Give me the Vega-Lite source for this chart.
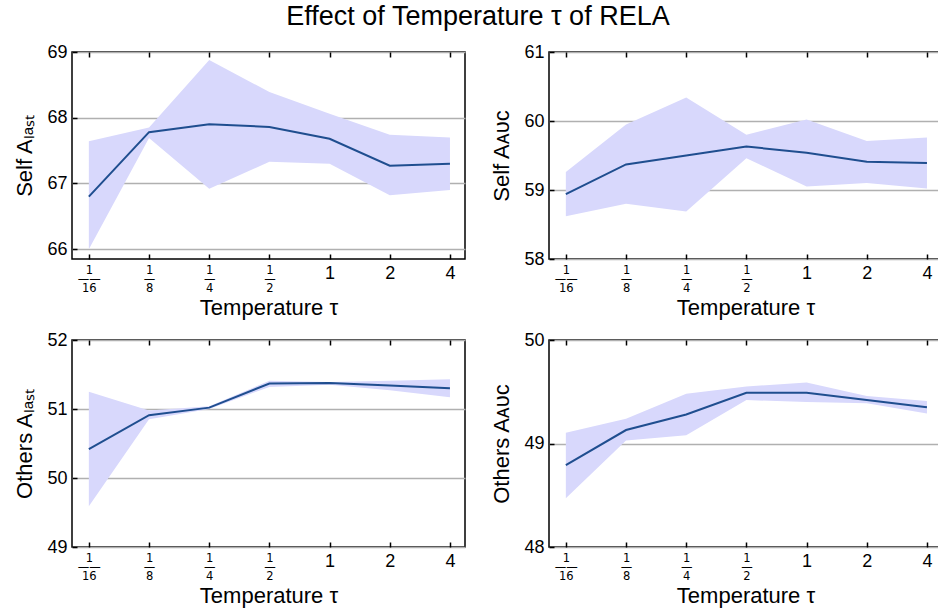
{
  "$schema": "https://vega.github.io/schema/vega-lite/v6.json",
  "padding": {"left": 13, "top": 3, "right": 0, "bottom": 0},
  "background": "white",
  "title": {"text": "Effect of Temperature τ of RELA", "fontSize": 27, "font": "Liberation Sans", "fontWeight": "normal", "anchor": "middle", "color": "black", "offset": 11},
  "config": {
    "view": {"stroke": "black", "strokeWidth": 1.5},
    "axis": {"labelFont": "Liberation Sans", "titleFont": "Liberation Sans", "labelColor": "black", "titleColor": "black", "titleFontWeight": "normal", "domain": false, "tickColor": "black", "labelOverlap": false}
  },
  "datasets": {
    "pts": [
      {"panel": "p1", "k": -4, "mean": 66.80, "lo": 66.00, "hi": 67.64},
      {"panel": "p1", "k": -3, "mean": 67.78, "lo": 67.69, "hi": 67.85},
      {"panel": "p1", "k": -2, "mean": 67.90, "lo": 66.92, "hi": 68.88},
      {"panel": "p1", "k": -1, "mean": 67.86, "lo": 67.33, "hi": 68.39},
      {"panel": "p1", "k": 0, "mean": 67.68, "lo": 67.30, "hi": 68.06},
      {"panel": "p1", "k": 1, "mean": 67.27, "lo": 66.82, "hi": 67.74},
      {"panel": "p1", "k": 2, "mean": 67.30, "lo": 66.90, "hi": 67.70},
      {"panel": "p2", "k": -4, "mean": 58.94, "lo": 58.62, "hi": 59.26},
      {"panel": "p2", "k": -3, "mean": 59.37, "lo": 58.80, "hi": 59.95},
      {"panel": "p2", "k": -2, "mean": 59.50, "lo": 58.69, "hi": 60.34},
      {"panel": "p2", "k": -1, "mean": 59.63, "lo": 59.46, "hi": 59.80},
      {"panel": "p2", "k": 0, "mean": 59.54, "lo": 59.05, "hi": 60.02},
      {"panel": "p2", "k": 1, "mean": 59.41, "lo": 59.10, "hi": 59.71},
      {"panel": "p2", "k": 2, "mean": 59.39, "lo": 59.02, "hi": 59.76},
      {"panel": "p3", "k": -4, "mean": 50.42, "lo": 49.59, "hi": 51.25},
      {"panel": "p3", "k": -3, "mean": 50.91, "lo": 50.85, "hi": 50.98},
      {"panel": "p3", "k": -2, "mean": 51.02, "lo": 51.00, "hi": 51.04},
      {"panel": "p3", "k": -1, "mean": 51.37, "lo": 51.32, "hi": 51.41},
      {"panel": "p3", "k": 0, "mean": 51.375, "lo": 51.35, "hi": 51.39},
      {"panel": "p3", "k": 1, "mean": 51.34, "lo": 51.27, "hi": 51.41},
      {"panel": "p3", "k": 2, "mean": 51.30, "lo": 51.17, "hi": 51.43},
      {"panel": "p4", "k": -4, "mean": 48.79, "lo": 48.47, "hi": 49.105},
      {"panel": "p4", "k": -3, "mean": 49.13, "lo": 49.03, "hi": 49.24},
      {"panel": "p4", "k": -2, "mean": 49.28, "lo": 49.08, "hi": 49.48},
      {"panel": "p4", "k": -1, "mean": 49.49, "lo": 49.42, "hi": 49.55},
      {"panel": "p4", "k": 0, "mean": 49.49, "lo": 49.40, "hi": 49.59},
      {"panel": "p4", "k": 1, "mean": 49.42, "lo": 49.39, "hi": 49.46},
      {"panel": "p4", "k": 2, "mean": 49.35, "lo": 49.29, "hi": 49.41}
    ]
  },
  "columns": 2,
  "spacing": {"column": 24, "row": 10},
  "concat": [
    {
      "width": 393, "height": 207,
      "data": {"name": "pts"},
      "transform": [{"filter": "datum.panel == 'p1'"}],
      "layer": [
        {"mark": {"type": "area", "color": "#d8d8fc", "opacity": 1},
         "encoding": {
           "x": {"field": "k", "type": "quantitative", "scale": {"domain": [-4.28, 2.25], "nice": false}, "axis": {"orient": "top", "values": [-4,-3,-2,-1,0,1,2], "labels": false, "title": null, "grid": false, "offset": -5, "tickSize": 5, "tickWidth": 1.5}},
           "y": {"field": "lo", "type": "quantitative", "scale": {"domain": [65.85, 69], "nice": false, "zero": false}, "axis": {"values": [66,67,68,69], "tickCount": 10, "labelExpr": "format(datum.value, 'd')", "title": "Self Aₗₐₛₜ", "titleFontSize": 22, "labelFontSize": 18, "offset": -5, "tickSize": 5, "tickWidth": 1.5, "grid": true, "gridColor": "#b0b0b0", "gridWidth": 1.5, "labelPadding": 5, "titlePadding": 10}},
           "y2": {"field": "hi"}
         }},
        {"mark": {"type": "line", "color": "#1f4e8f", "strokeWidth": 2},
         "encoding": {
           "x": {"field": "k", "type": "quantitative", "axis": {"orient": "bottom", "values": [-4,-3,-2,-1,0,1,2], "title": "Temperature τ", "titleFontSize": 22, "offset": -5, "tickSize": 5, "tickWidth": 1.5, "grid": false, "labelPadding": 5, "titlePadding": 4, "labelLineHeight": 9, "labelExpr": "datum.value == -4 ? ['1','——','16'] : datum.value == -3 ? ['1','—','8'] : datum.value == -2 ? ['1','—','4'] : datum.value == -1 ? ['1','—','2'] : format(pow(2, datum.value), 'd')", "labelFontSize": {"condition": {"test": "datum.value < 0", "value": 11.5}, "value": 18}, "labelFont": {"condition": {"test": "datum.value < 0", "value": "DejaVu Sans"}, "value": "Liberation Sans"}}},
           "y": {"field": "mean", "type": "quantitative"}
         }}
      ],
      "resolve": {"axis": {"x": "independent"}}
    },
    {
      "width": 393, "height": 207,
      "data": {"name": "pts"},
      "transform": [{"filter": "datum.panel == 'p2'"}],
      "layer": [
        {"mark": {"type": "area", "color": "#d8d8fc", "opacity": 1},
         "encoding": {
           "x": {"field": "k", "type": "quantitative", "scale": {"domain": [-4.28, 2.25], "nice": false}, "axis": {"orient": "top", "values": [-4,-3,-2,-1,0,1,2], "labels": false, "title": null, "grid": false, "offset": -5, "tickSize": 5, "tickWidth": 1.5}},
           "y": {"field": "lo", "type": "quantitative", "scale": {"domain": [58, 61], "nice": false, "zero": false}, "axis": {"values": [58,59,60,61], "tickCount": 10, "labelExpr": "format(datum.value, 'd')", "title": "Self Aᴀᴜᴄ", "titleFontSize": 22, "labelFontSize": 18, "offset": -5, "tickSize": 5, "tickWidth": 1.5, "grid": true, "gridColor": "#b0b0b0", "gridWidth": 1.5, "labelPadding": 5, "titlePadding": 10}},
           "y2": {"field": "hi"}
         }},
        {"mark": {"type": "line", "color": "#1f4e8f", "strokeWidth": 2},
         "encoding": {
           "x": {"field": "k", "type": "quantitative", "axis": {"orient": "bottom", "values": [-4,-3,-2,-1,0,1,2], "title": "Temperature τ", "titleFontSize": 22, "offset": -5, "tickSize": 5, "tickWidth": 1.5, "grid": false, "labelPadding": 5, "titlePadding": 4, "labelLineHeight": 9, "labelExpr": "datum.value == -4 ? ['1','——','16'] : datum.value == -3 ? ['1','—','8'] : datum.value == -2 ? ['1','—','4'] : datum.value == -1 ? ['1','—','2'] : format(pow(2, datum.value), 'd')", "labelFontSize": {"condition": {"test": "datum.value < 0", "value": 11.5}, "value": 18}, "labelFont": {"condition": {"test": "datum.value < 0", "value": "DejaVu Sans"}, "value": "Liberation Sans"}}},
           "y": {"field": "mean", "type": "quantitative"}
         }}
      ],
      "resolve": {"axis": {"x": "independent"}}
    },
    {
      "width": 393, "height": 207,
      "data": {"name": "pts"},
      "transform": [{"filter": "datum.panel == 'p3'"}],
      "layer": [
        {"mark": {"type": "area", "color": "#d8d8fc", "opacity": 1},
         "encoding": {
           "x": {"field": "k", "type": "quantitative", "scale": {"domain": [-4.28, 2.25], "nice": false}, "axis": {"orient": "top", "values": [-4,-3,-2,-1,0,1,2], "labels": false, "title": null, "grid": false, "offset": -5, "tickSize": 5, "tickWidth": 1.5}},
           "y": {"field": "lo", "type": "quantitative", "scale": {"domain": [49, 52], "nice": false, "zero": false}, "axis": {"values": [49,50,51,52], "tickCount": 10, "labelExpr": "format(datum.value, 'd')", "title": "Others Aₗₐₛₜ", "titleFontSize": 22, "labelFontSize": 18, "offset": -5, "tickSize": 5, "tickWidth": 1.5, "grid": true, "gridColor": "#b0b0b0", "gridWidth": 1.5, "labelPadding": 5, "titlePadding": 10}},
           "y2": {"field": "hi"}
         }},
        {"mark": {"type": "line", "color": "#1f4e8f", "strokeWidth": 2},
         "encoding": {
           "x": {"field": "k", "type": "quantitative", "axis": {"orient": "bottom", "values": [-4,-3,-2,-1,0,1,2], "title": "Temperature τ", "titleFontSize": 22, "offset": -5, "tickSize": 5, "tickWidth": 1.5, "grid": false, "labelPadding": 5, "titlePadding": 4, "labelLineHeight": 9, "labelExpr": "datum.value == -4 ? ['1','——','16'] : datum.value == -3 ? ['1','—','8'] : datum.value == -2 ? ['1','—','4'] : datum.value == -1 ? ['1','—','2'] : format(pow(2, datum.value), 'd')", "labelFontSize": {"condition": {"test": "datum.value < 0", "value": 11.5}, "value": 18}, "labelFont": {"condition": {"test": "datum.value < 0", "value": "DejaVu Sans"}, "value": "Liberation Sans"}}},
           "y": {"field": "mean", "type": "quantitative"}
         }}
      ],
      "resolve": {"axis": {"x": "independent"}}
    },
    {
      "width": 393, "height": 207,
      "data": {"name": "pts"},
      "transform": [{"filter": "datum.panel == 'p4'"}],
      "layer": [
        {"mark": {"type": "area", "color": "#d8d8fc", "opacity": 1},
         "encoding": {
           "x": {"field": "k", "type": "quantitative", "scale": {"domain": [-4.28, 2.25], "nice": false}, "axis": {"orient": "top", "values": [-4,-3,-2,-1,0,1,2], "labels": false, "title": null, "grid": false, "offset": -5, "tickSize": 5, "tickWidth": 1.5}},
           "y": {"field": "lo", "type": "quantitative", "scale": {"domain": [48, 50], "nice": false, "zero": false}, "axis": {"values": [48,49,50], "tickCount": 10, "labelExpr": "format(datum.value, 'd')", "title": "Others Aᴀᴜᴄ", "titleFontSize": 22, "labelFontSize": 18, "offset": -5, "tickSize": 5, "tickWidth": 1.5, "grid": true, "gridColor": "#b0b0b0", "gridWidth": 1.5, "labelPadding": 5, "titlePadding": 10}},
           "y2": {"field": "hi"}
         }},
        {"mark": {"type": "line", "color": "#1f4e8f", "strokeWidth": 2},
         "encoding": {
           "x": {"field": "k", "type": "quantitative", "axis": {"orient": "bottom", "values": [-4,-3,-2,-1,0,1,2], "title": "Temperature τ", "titleFontSize": 22, "offset": -5, "tickSize": 5, "tickWidth": 1.5, "grid": false, "labelPadding": 5, "titlePadding": 4, "labelLineHeight": 9, "labelExpr": "datum.value == -4 ? ['1','——','16'] : datum.value == -3 ? ['1','—','8'] : datum.value == -2 ? ['1','—','4'] : datum.value == -1 ? ['1','—','2'] : format(pow(2, datum.value), 'd')", "labelFontSize": {"condition": {"test": "datum.value < 0", "value": 11.5}, "value": 18}, "labelFont": {"condition": {"test": "datum.value < 0", "value": "DejaVu Sans"}, "value": "Liberation Sans"}}},
           "y": {"field": "mean", "type": "quantitative"}
         }}
      ],
      "resolve": {"axis": {"x": "independent"}}
    }
  ]
}
